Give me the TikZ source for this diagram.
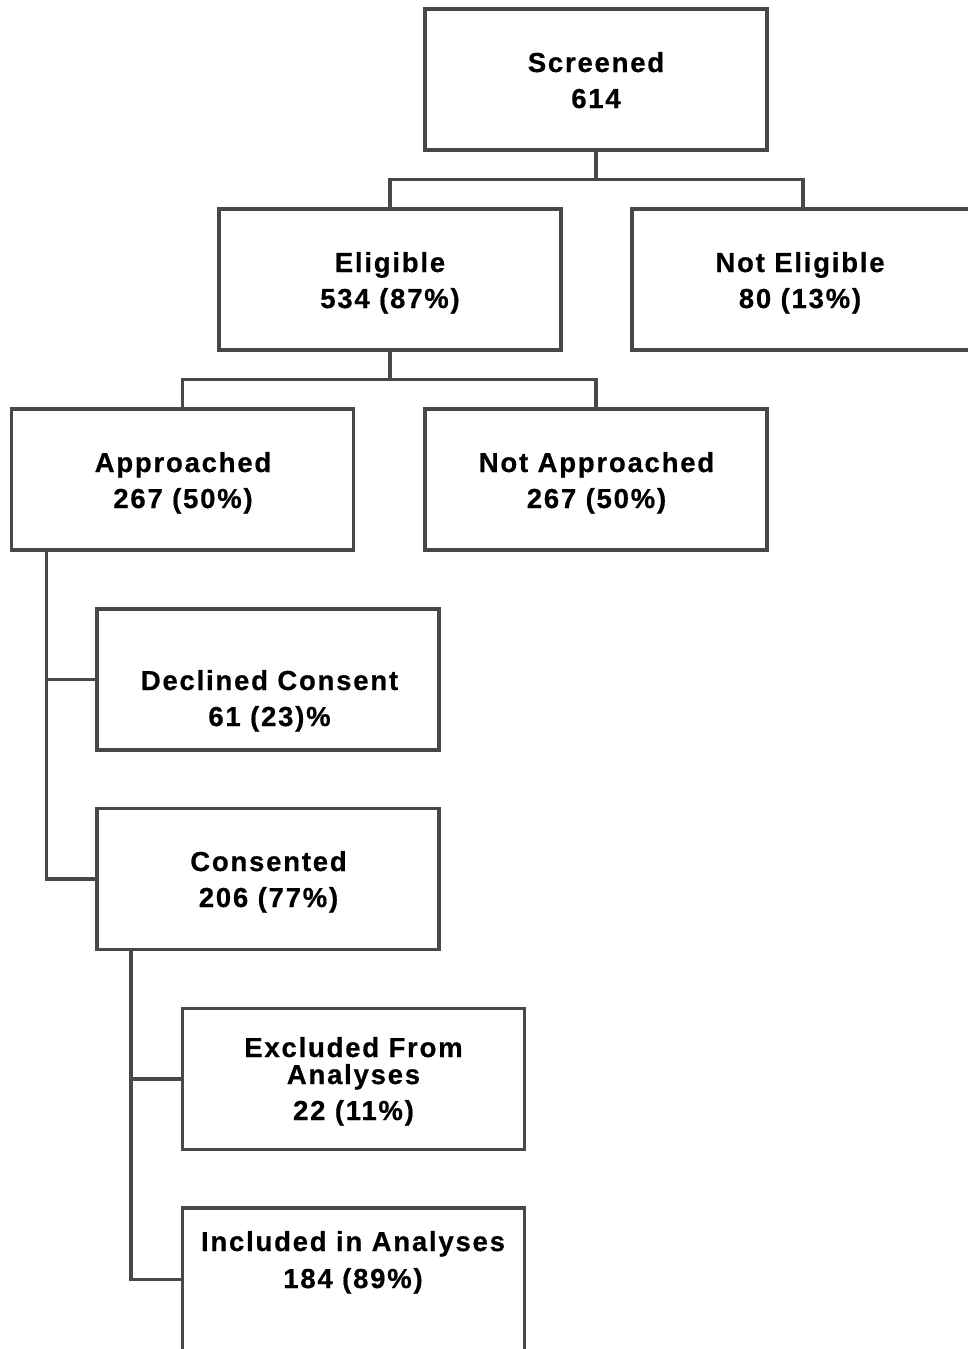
\documentclass[tikz,border=0pt]{standalone}
\usepackage{fontspec}
\setmainfont{Liberation Sans}[LetterSpace=6.5, BoldFeatures={FakeBold=0.6}]
\begin{document}
\begin{tikzpicture}[x=1pt,y=-1pt,
  box/.style={draw=linegray, line width=3.5pt, minimum width=342pt, minimum height=141pt, inner sep=0pt, outer sep=0pt},
  lbl/.style={anchor=base, inner sep=0pt, font=\fontsize{27.5}{30}\selectfont\bfseries},
  conn/.style={draw=linegray, line width=3.5pt}]
\definecolor{linegray}{RGB}{72,72,72}
\useasboundingbox (0,0) rectangle (968,1349);
\clip (0,0) rectangle (968,1349);
% boxes
\node[box] (scr)   at (596,79.5) {};
\node[box] (elig)  at (390,279.5) {};
\node[box] (nelig) at (803,279.5) {};
\node[box] (appr)  at (182.5,479.5) {};
\node[box] (nappr) at (596,479.5) {};
\node[box] (decl)  at (268,679.5) {};
\node[box] (cons)  at (268,879) {};
\node[box] (excl)  at (353.5,1079) {};
\node[box, minimum height=143pt] (incl)  at (353.5,1279.5) {};
% texts
\node[lbl] (scrA) at (596,72) {Screened};
\node[lbl] (scrB) at (596,108) {614};
\node[lbl] (eligA) at (390,272) {Eligible};
\node[lbl] (eligB) at (390,308) {534 (87\%)};
\node[lbl] (neligA) at (800,272) {Not Eligible};
\node[lbl] (neligB) at (800,308) {80 (13\%)};
\node[lbl] (apprA) at (183,472) {Approached};
\node[lbl] (apprB) at (183,508) {267 (50\%)};
\node[lbl] (napprA) at (596.5,472) {Not Approached};
\node[lbl] (napprB) at (596.5,508) {267 (50\%)};
\node[lbl] (declA) at (269.5,690) {Declined Consent};
\node[lbl] (declB) at (269.5,726) {61 (23)\%};
\node[lbl] (consA) at (268.5,871) {Consented};
\node[lbl] (consB) at (268.5,907) {206 (77\%)};
\node[lbl] (exclA) at (353.5,1057) {Excluded From};
\node[lbl] (exclB) at (353.5,1084) {Analyses};
\node[lbl] (exclC) at (353.5,1120) {22 (11\%)};
\node[lbl] (inclA) at (353,1251) {Included in Analyses};
\node[lbl] (inclB) at (353,1288) {184 (89\%)};
% connectors
\draw[conn] (scr.south) -- ++(0,29.5) coordinate (j1);
\draw[conn] (elig.north) |- (j1) -| (nelig.north);
\draw[conn] (elig.south) -- ++(0,29.5) coordinate (j2);
\draw[conn] (appr.north) |- (j2) -| (nappr.north);
\coordinate (s1) at ([xshift=35pt]appr.south west);
\draw[conn] (s1) |- (decl.west);
\draw[conn] (s1) |- (cons.west);
\coordinate (s2) at ([xshift=34pt]cons.south west);
\draw[conn] (s2) |- (excl.west);
\draw[conn] (s2) |- (incl.west);
\end{tikzpicture}
\end{document}
